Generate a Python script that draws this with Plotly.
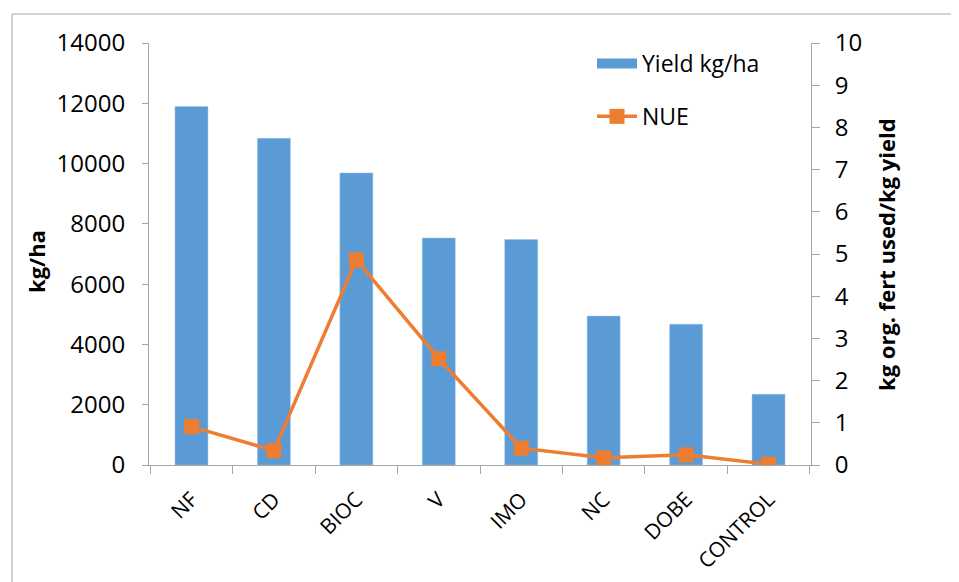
import plotly.graph_objects as go

categories = ["NF", "CD", "BIOC", "V", "IMO", "NC", "DOBE", "CONTROL"]
yield_kg_ha = [11890, 10840, 9690, 7530, 7480, 4940, 4670, 2350]
nue = [0.91, 0.34, 4.86, 2.52, 0.40, 0.17, 0.24, 0.02]
left_ticks = [0, 2000, 4000, 6000, 8000, 10000, 12000, 14000]
right_ticks = list(range(0, 11))

FONT = "Open Sans, Noto Sans, Liberation Sans, sans-serif"
AXIS_COL = "#a6a6a6"
BLUE = "#5B9BD5"
ORANGE = "#ED7D31"

fig = go.Figure()
fig.add_trace(go.Bar(
    x=categories, y=yield_kg_ha, name="Yield kg/ha",
    marker=dict(color=BLUE, line=dict(color="#9DC3E6", width=0.5)),
    showlegend=False, yaxis="y",
))
# legend entry for the bars (wide rectangle like the reference)
fig.add_trace(go.Scatter(
    x=[None], y=[None], name="Yield kg/ha", mode="lines",
    line=dict(color=BLUE, width=14), legendgroup="a", yaxis="y",
))
fig.add_trace(go.Scatter(
    x=categories, y=nue, name="NUE", mode="lines+markers",
    line=dict(color=ORANGE, width=3.5),
    marker=dict(symbol="square", size=15, color=ORANGE),
    legendgroup="b", yaxis="y2",
))

# page body has an 8px margin: figure is laid out in reference coords - 8
W, H = 951, 574
L, T = 141, 35
pw, ph = 662, 422
R, B = W - L - pw, H - T - ph

def px_x(ref):
    return (ref - 8 - L) / pw

def px_y(ref):
    return (H - B - (ref - 8)) / ph

TICKF = dict(size=24, family=FONT, color="black")
XTICKF = dict(size=21, family=FONT, color="black")

fig.update_layout(
    width=W, height=H,
    margin=dict(l=L, r=R, t=T, b=B, pad=0, autoexpand=False),
    paper_bgcolor="white", plot_bgcolor="white",
    font=dict(family=FONT, size=23, color="black"),
    bargap=0.6,
    showlegend=True,
    legend=dict(
        x=px_x(592), y=px_y(42), xanchor="left", yanchor="top",
        traceorder="grouped", tracegroupgap=20,
        font=dict(size=23), bgcolor="rgba(0,0,0,0)", itemwidth=40,
    ),
    xaxis=dict(
        type="category", showline=True, linecolor=AXIS_COL, linewidth=1,
        ticks="outside", tickson="boundaries", ticklen=8, tickcolor=AXIS_COL,
        tickangle=-45, showgrid=False, tickfont=XTICKF, ticklabelstandoff=13,
        automargin=False,
    ),
    yaxis=dict(
        range=[0, 14000], tickvals=left_ticks, tickformat="d", showline=True,
        linecolor=AXIS_COL, linewidth=1, ticks="outside", ticklen=6,
        tickcolor=AXIS_COL, showgrid=False, zeroline=False,
        tickfont=TICKF, ticklabelstandoff=12, automargin=False,
    ),
    yaxis2=dict(
        range=[0, 10], tickvals=right_ticks, overlaying="y", side="right",
        showline=True, linecolor=AXIS_COL, linewidth=1, ticks="outside",
        ticklen=8, tickcolor=AXIS_COL, showgrid=False, zeroline=False,
        tickfont=TICKF, ticklabelstandoff=10, automargin=False,
    ),
    annotations=[
        dict(text="<b>kg/ha</b>", x=px_x(36), y=px_y(262), xref="paper",
             yref="paper", xanchor="center", yanchor="middle",
             showarrow=False, textangle=-90, font=dict(size=22)),
        dict(text="<b>kg org. fert used/kg yield</b>", x=px_x(886),
             y=px_y(254), xref="paper", yref="paper", xanchor="center",
             yanchor="middle", showarrow=False, textangle=-90,
             font=dict(size=22)),
    ],
    shapes=[
        dict(type="rect", xref="paper", yref="paper",
             x0=px_x(12), x1=px_x(975), y0=px_y(600), y1=px_y(14),
             line=dict(color=AXIS_COL, width=1), layer="below"),
    ],
)

fig.write_html("out.html")
